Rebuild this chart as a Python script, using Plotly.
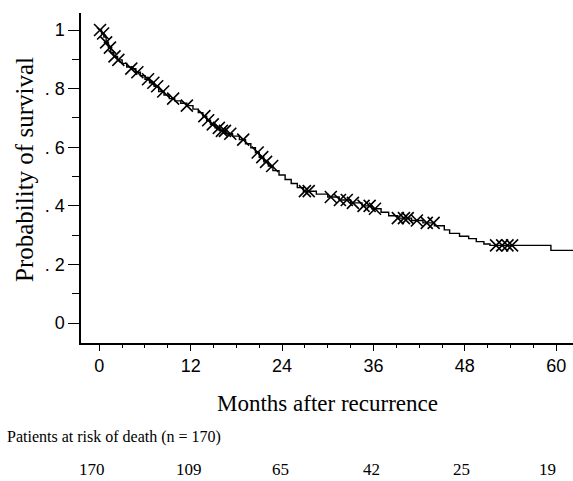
import plotly.graph_objects as go
import bisect

# Kaplan-Meier step data (months, survival probability)
step_times = [0, 0.3, 0.6, 0.9, 1.2, 1.5, 1.9, 2.4, 3.0, 3.6, 4.2, 4.8, 5.4, 6.0, 6.6,
              7.2, 7.8, 8.5, 9.2, 9.9, 10.7, 11.5, 12.3, 13.0, 13.6, 14.1, 14.6, 15.2,
              15.8, 16.6, 17.5, 18.4, 19.2, 19.9, 20.5, 21.0, 21.6, 22.2, 22.8, 23.6,
              24.4, 25.2, 26.0, 26.8, 28.5, 30.0, 31.5, 33.0, 34.5, 35.8, 37.0, 38.0,
              39.2, 41.0, 42.5, 44.0, 45.3, 46.0, 47.3, 48.5, 49.5, 50.5, 51.3, 59.3]
step_surv = [1.0, 0.988, 0.976, 0.958, 0.94, 0.923, 0.91, 0.898, 0.886, 0.874, 0.868,
             0.856, 0.844, 0.832, 0.82, 0.808, 0.79, 0.778, 0.766, 0.758, 0.75, 0.742,
             0.73, 0.718, 0.706, 0.692, 0.678, 0.666, 0.656, 0.646, 0.638, 0.626, 0.612,
             0.598, 0.582, 0.566, 0.55, 0.536, 0.52, 0.505, 0.49, 0.476, 0.462, 0.45,
             0.44, 0.43, 0.42, 0.41, 0.40, 0.39, 0.378, 0.366, 0.358, 0.35, 0.342, 0.332,
             0.318, 0.306, 0.296, 0.288, 0.278, 0.27, 0.265, 0.248]
follow_up_end = 62.2

# Censored observations (months)
censor_times = [0.1, 0.5, 0.9, 1.4, 2.0, 2.5, 4.2, 5.0, 6.4, 7.1, 7.6, 8.4, 9.7, 11.5,
                13.8, 14.3, 14.9, 15.7, 16.1, 16.5, 17.2, 18.9, 20.8, 21.4, 21.9, 22.7,
                27.0, 27.5, 30.4, 31.6, 32.5, 33.3, 34.7, 35.5, 36.2, 39.2, 40.0, 40.5,
                41.7, 43.0, 43.9, 52.1, 52.9, 53.6, 54.2]

# Numbers at risk
risk_months = [0, 12, 24, 36, 48, 60]
risk_counts = [170, 109, 65, 42, 25, 19]

x_ticks = [0, 12, 24, 36, 48, 60]
y_ticks = [0, 0.2, 0.4, 0.6, 0.8, 1]
y_tick_text = ["0", ". 2", ". 4", ". 6", ". 8", "1"]

def surv_at(t):
    i = bisect.bisect_right(step_times, t) - 1
    return step_surv[max(i, 0)]

line_x = step_times + [follow_up_end]
line_y = step_surv + [step_surv[-1]]

fig = go.Figure()
fig.add_trace(go.Scatter(x=line_x, y=line_y, mode="lines", line=dict(shape="hv", color="black", width=1.4),
                         hoverinfo="skip", showlegend=False))
fig.add_trace(go.Scatter(x=censor_times, y=[surv_at(t) for t in censor_times], mode="markers",
                         marker=dict(symbol="x-thin", size=12, line=dict(color="black", width=1.6)),
                         showlegend=False))

tickfont = dict(family="Liberation Sans, Arial, sans-serif", size=18, color="black")
serif = "Liberation Serif, Times New Roman, serif"

fig.update_layout(
    width=573, height=481,
    margin=dict(l=81, r=0, t=13, b=138),
    paper_bgcolor="white", plot_bgcolor="white",
    xaxis=dict(range=[-2.4, 62.2], tickvals=x_ticks, ticks="outside", ticklen=6, tickwidth=1.2,
               tickcolor="black", showline=True, linecolor="black", linewidth=1.5, showgrid=False,
               zeroline=False, tickfont=tickfont,
               minor=dict(dtick=3, tick0=0, ticks="outside", ticklen=3, tickcolor="black", tickwidth=1)),
    yaxis=dict(range=[-0.068, 1.058], tickvals=y_ticks, ticktext=y_tick_text, ticks="outside",
               ticklen=11, tickwidth=1.2, tickcolor="black", showline=True, linecolor="black",
               linewidth=1.5, showgrid=False, zeroline=False, tickfont=tickfont,
               minor=dict(tickvals=[0.1, 0.3, 0.5, 0.7, 0.9], ticks="outside", ticklen=7,
                          tickcolor="black", tickwidth=1)),
)

fig.add_annotation(text="Probability of survival", xref="paper", yref="paper", x=0, y=0.5,
                   xanchor="center", yanchor="middle", xshift=-57, yshift=8, textangle=-90, showarrow=False,
                   font=dict(family=serif, size=25, color="black"))
fig.add_annotation(text="Months after recurrence", xref="paper", yref="paper", x=0.5, y=0,
                   xanchor="center", yanchor="middle", yshift=-60, showarrow=False,
                   font=dict(family=serif, size=23, color="black"))
fig.add_annotation(text="Patients at risk of death (n = 170)", xref="paper", yref="paper", x=0, y=0,
                   xanchor="left", yanchor="middle", xshift=-76, yshift=-94, showarrow=False,
                   font=dict(family=serif, size=16, color="black"))
risk_shift = [-7, -2, -2, -2, -3, -9]
for m, c, s in zip(risk_months, risk_counts, risk_shift):
    fig.add_annotation(text=str(c), xref="x", yref="paper", x=m, y=0, xanchor="center",
                       yanchor="middle", xshift=s, yshift=-126, showarrow=False,
                       font=dict(family=serif, size=17, color="black"))

fig.write_html("out.html")
